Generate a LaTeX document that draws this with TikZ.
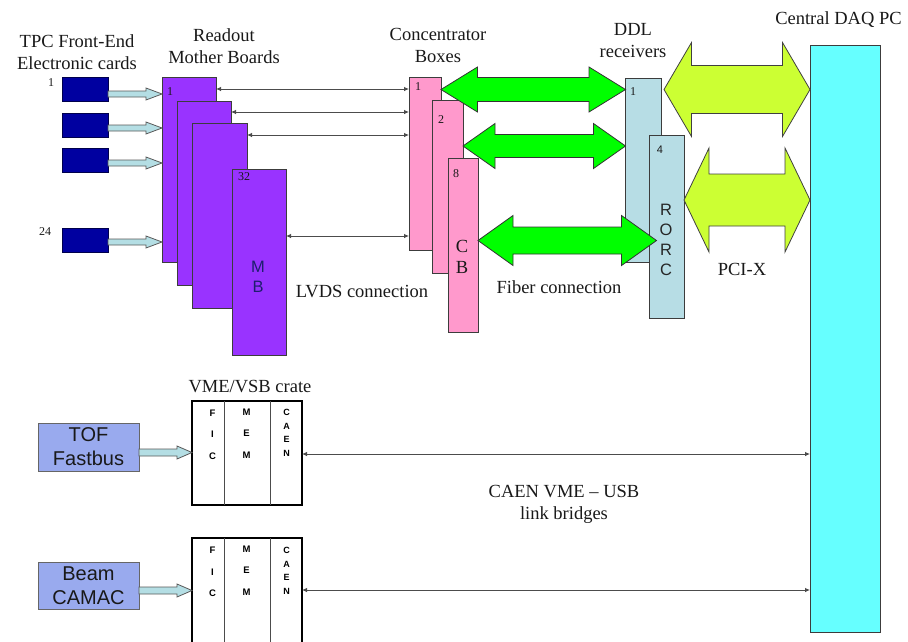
\documentclass[tikz,border=0pt]{standalone}
\usepackage{fontspec}
\setmainfont{Liberation Serif}
\setsansfont{Liberation Sans}
\usetikzlibrary{arrows.meta,calc}
\definecolor{cardblue}{RGB}{0,0,160}
\definecolor{mbpurple}{RGB}{153,51,255}
\definecolor{cbpink}{RGB}{255,153,204}
\definecolor{ddlblue}{RGB}{183,221,229}
\definecolor{fibergreen}{RGB}{0,255,0}
\definecolor{pcigreen}{RGB}{204,255,51}
\definecolor{pccyan}{RGB}{102,255,255}
\definecolor{tofblue}{RGB}{153,170,238}
\definecolor{edgegray}{RGB}{60,60,60}
\definecolor{mbtext}{RGB}{30,30,110}
\definecolor{hollowfill}{RGB}{180,222,228}
% #1 style, #2 left tip, #3 right tip, #4 head length, #5 head half height, #6 shaft half height
\newcommand\blockarrow[6]{%
  \path[#1] let \p1=(#2), \p2=(#3) in
  (\x1,\y1) -- ({\x1+#4pt},{\y1+#5pt}) -- ({\x1+#4pt},{\y1+#6pt}) -- ({\x2-#4pt},{\y1+#6pt})
  -- ({\x2-#4pt},{\y1+#5pt}) -- (\x2,\y1) -- ({\x2-#4pt},{\y1-#5pt}) -- ({\x2-#4pt},{\y1-#6pt})
  -- ({\x1+#4pt},{\y1-#6pt}) -- ({\x1+#4pt},{\y1-#5pt}) -- cycle;}
% #1 style, #2 start, #3 tip, #4 head length, #5 head half, #6 shaft half
\newcommand\hollowarrow[6]{%
  \path[#1] let \p1=(#2), \p2=(#3) in
  (\x1,{\y2+#6pt}) -- ({\x2-#4pt},{\y2+#6pt}) -- ({\x2-#4pt},{\y2+#5pt}) -- (\x2,\y2)
  -- ({\x2-#4pt},{\y2-#5pt}) -- ({\x2-#4pt},{\y2-#6pt}) -- (\x1,{\y2-#6pt}) -- cycle;}
\begin{document}
\begin{tikzpicture}[x=1pt,y=-1pt,
  bx/.style={draw=edgegray, line width=0.9pt, inner sep=0pt, outer sep=0pt, anchor=north west},
  lbl/.style={font=\fontsize{18.5}{22}\selectfont, align=center, inner sep=0pt, text=black!90},
  num/.style={font=\fontsize{12}{12}\selectfont, inner sep=0pt, text=black!90},
  vert/.style={font=\sffamily\fontsize{16.5}{20}\selectfont, align=center, inner sep=0pt},
  slot/.style={font=\sffamily\bfseries\fontsize{9.5}{21.5}\selectfont, align=center, inner sep=0pt},
  slotc/.style={font=\sffamily\bfseries\fontsize{9}{13.5}\selectfont, align=center, inner sep=0pt},
  boxtext/.style={font=\sffamily\fontsize{20}{24}\selectfont, align=center, inner sep=0pt, text=black!90},
  link/.style={draw=black!70, line width=0.8pt, {Latex[length=5pt,width=4.5pt]}-{Latex[length=5pt,width=4.5pt]}},
  hol/.style={fill=hollowfill, draw=black!65, line width=0.8pt},
  grn/.style={fill=fibergreen, draw=black!80, line width=0.8pt},
  ylw/.style={fill=pcigreen, draw=black!75, line width=0.8pt},
  crate/.style={draw=black, fill=white, line width=2.4pt, inner sep=0pt, outer sep=0pt, anchor=north west},
  divider/.style={draw=black!70, line width=1pt}
]
\useasboundingbox (0,0) rectangle (908,641);
\clip (0,0) rectangle (908,641);

% ---- TPC front-end cards
\node[bx, fill=cardblue, draw=black!70!blue, minimum width=46pt, minimum height=24pt] (c1) at (62,77) {};
\node[bx, fill=cardblue, draw=black!70!blue, minimum width=46pt, minimum height=24pt] (c2) at (62,113) {};
\node[bx, fill=cardblue, draw=black!70!blue, minimum width=46pt, minimum height=24pt] (c3) at (62,148) {};
\node[bx, fill=cardblue, draw=black!70!blue, minimum width=46pt, minimum height=24pt] (c4) at (62,228) {};
\node[num] (n1) at (51,83) {1};
\node[num] (n24) at (45,232) {24};
\node[lbl] (tpclbl) at (77,52) {TPC Front-End\\Electronic cards};

% ---- Readout mother boards
\node[bx, fill=mbpurple, minimum width=54pt, minimum height=185pt] (mb1) at (162,77) {};
\node[bx, fill=mbpurple, minimum width=54pt, minimum height=184pt] (mb2) at (177,101) {};
\node[bx, fill=mbpurple, minimum width=55pt, minimum height=185pt] (mb3) at (192,123) {};
\node[bx, fill=mbpurple, minimum width=54pt, minimum height=186pt] (mb4) at (232,169) {};
\node[num] (mbn1) at (170,92) {1};
\node[num] (mbn32) at (244,177) {32};
\node[vert, text=mbtext] (mblbl) at (258,277) {M\\B};
\node[lbl] (mbtitle) at (224,46) {Readout\\Mother Boards};

\hollowarrow{hol}{c1.east}{mb1.west |- 0,94}{16}{6}{3}
\hollowarrow{hol}{c2.east}{mb1.west |- 0,128}{16}{6}{3}
\hollowarrow{hol}{c3.east}{mb1.west |- 0,163}{16}{6}{3}
\hollowarrow{hol}{c4.east}{mb1.west |- 0,242}{16}{6}{3}

% ---- Concentrator boxes
\node[bx, fill=cbpink, minimum width=32pt, minimum height=173pt] (cb1) at (409,77) {};
\node[bx, fill=cbpink, minimum width=31pt, minimum height=173pt] (cb2) at (432,100) {};
\node[bx, fill=cbpink, minimum width=30pt, minimum height=174pt] (cb3) at (448,158) {};
\node[num] (cbn1) at (418,87) {1};
\node[num] (cbn2) at (441,120) {2};
\node[num] (cbn8) at (456,174) {8};
\node[lbl, font=\fontsize{18.5}{21}\selectfont] (cblbl) at (462,257) {C\\B};
\node[lbl] (cbtitle) at (438,45) {Concentrator\\Boxes};

\draw[link] (mb1.east |- 0,89) -- (cb1.west |- 0,89);
\draw[link] (mb2.east |- 0,112) -- (cb1.west |- 0,112);
\draw[link] (mb3.east |- 0,135) -- (cb1.west |- 0,135);
\draw[link] (mb4.east |- 0,236) -- (cb1.west |- 0,236);
\node[lbl] (lvds) at (362,292) {LVDS connection};

% ---- DDL receivers / RORC
\node[bx, fill=ddlblue, minimum width=35.5pt, minimum height=184pt] (ddl1) at (625.5,78) {};
\node[bx, fill=ddlblue, minimum width=35pt, minimum height=183pt] (rorc) at (649,135) {};
\node[num] (ddln1) at (633,92) {1};
\node[num, font=\sffamily\fontsize{11}{11}\selectfont] (ddln4) at (660,150) {4};
\node[vert, text=black!85] (rorclbl) at (666,240) {R\\O\\R\\C};
\node[lbl] (ddltitle) at (633,41) {DDL\\receivers};

% ---- Central DAQ PC
\node[bx, fill=pccyan, minimum width=70pt, minimum height=587pt] (pc) at (810,45) {};
\node[lbl] (pctitle) at (838.5,20) {Central DAQ PC};

% ---- fiber arrows
\blockarrow{grn}{cb1.east |- 0,89.5}{ddl1.west |- 0,89.5}{36.5}{22.5}{12}
\blockarrow{grn}{cb2.east |- 0,146}{ddl1.west |- 0,146}{32}{22.5}{11.5}
\blockarrow{grn}{cb3.east |- 0,240.5}{$(rorc.west |- 0,240.5)+(7.5,0)$}{35}{25}{13.5}
\node[lbl] (fiber) at (559,287) {Fiber connection};

% ---- PCI-X arrows
\blockarrow{ylw}{$(ddl1.east |- 0,89.5)+(3,0)$}{pc.west |- 0,89.5}{27.5}{47}{24}
\blockarrow{ylw}{rorc.east |- 0,200}{pc.west |- 0,200}{25}{52}{26}
\node[lbl] (pcix) at (742,269) {PCI-X};

% ---- VME/VSB crates
\node[bx, fill=tofblue, draw=black!60, minimum width=101pt, minimum height=48pt] (tof) at (38,423) {};
\node[boxtext] (toflbl) at (tof.center) {TOF\\Fastbus};
\node[bx, fill=tofblue, draw=black!60, minimum width=101pt, minimum height=47pt] (beam) at (38,562) {};
\node[boxtext] (beamlbl) at (beam.center) {Beam\\CAMAC};

\node[crate, minimum width=110pt, minimum height=104pt] (cr1) at (192,401) {};
\node[crate, minimum width=110pt, minimum height=130pt] (cr2) at (192,538) {};
\draw[divider] (cr1.north -| 224,0) -- (cr1.south -| 224,0);
\draw[divider] (cr1.north -| 270,0) -- (cr1.south -| 270,0);
\draw[divider] (cr2.north -| 224,0) -- (cr2.south -| 224,0);
\draw[divider] (cr2.north -| 270,0) -- (cr2.south -| 270,0);
\node[slot] (fic1) at (212.5,434.5) {F\\I\\C};
\node[slot] (mem1) at (246.5,433.5) {M\\E\\M};
\node[slotc] (caen1) at (286.5,433) {C\\A\\E\\N};
\node[slot] (fic2) at (212.5,572) {F\\I\\C};
\node[slot] (mem2) at (246.5,570.5) {M\\E\\M};
\node[slotc] (caen2) at (286.5,571) {C\\A\\E\\N};
\node[lbl] (vmetitle) at (250,387) {VME/VSB crate};

\hollowarrow{hol}{tof.east}{cr1.west |- 0,452.5}{15}{6.5}{3.5}
\hollowarrow{hol}{beam.east}{cr2.west |- 0,590.5}{15}{6.5}{3.5}

\draw[link] (cr1.east |- 0,454) -- (pc.west |- 0,454);
\draw[link] (cr2.east |- 0,590) -- (pc.west |- 0,590);
\node[lbl] (caenlbl) at (564,504) {CAEN VME -- USB\\link bridges};
\end{tikzpicture}
\end{document}
